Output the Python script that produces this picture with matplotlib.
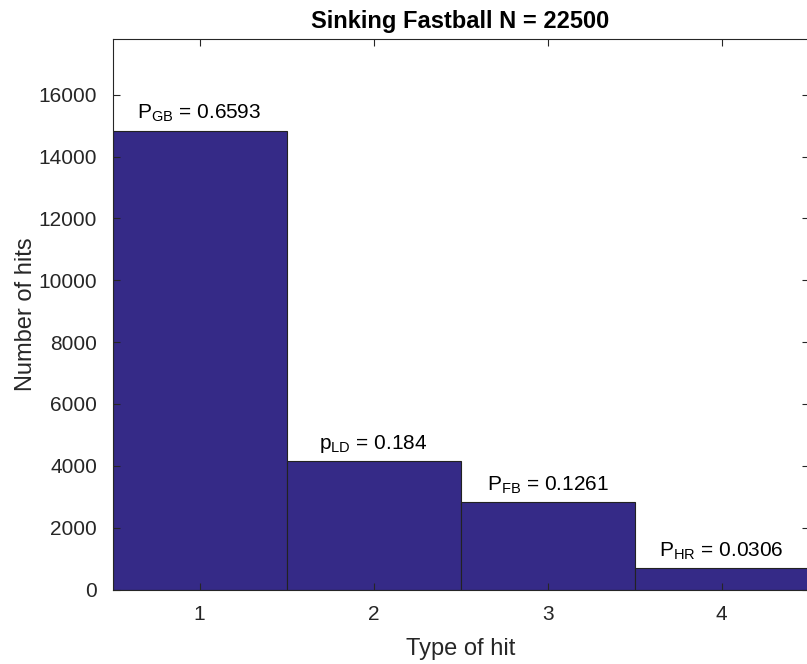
import matplotlib
matplotlib.use("Agg")
import matplotlib.pyplot as plt

categories = [1, 2, 3, 4]
counts = [14834, 4140, 2837, 689]
labels = [r"P$_{\mathregular{GB}}$ = 0.6593", r"p$_{\mathregular{LD}}$ = 0.184",
          r"P$_{\mathregular{FB}}$ = 0.1261", r"P$_{\mathregular{HR}}$ = 0.0306"]
yticks = [0, 2000, 4000, 6000, 8000, 10000, 12000, 14000, 16000]
title = "Sinking Fastball N = 22500"

plt.rcParams['font.family'] = ['Liberation Sans', 'DejaVu Sans']
plt.rcParams['mathtext.fontset'] = 'custom'
plt.rcParams['mathtext.rm'] = 'Liberation Sans'

W, H = 807, 664
fig = plt.figure(figsize=(W / 100, H / 100), dpi=100)
left, bottom, top = 112.5, 589.5, 39.0
ax = fig.add_axes([left / W, 1 - bottom / H, (W - left) / W + 0.002, (bottom - top) / H])

ax.bar(categories, counts, width=1.0, color=(0.2081, 0.1663, 0.5292),
       edgecolor='#222222', linewidth=0.8)
for x, c, t in zip(categories, counts, labels):
    ax.annotate(t, (x, c), xytext=(0, 4.5), textcoords='offset points',
                ha='center', va='bottom', fontsize=15, color='black')

ax.set_xlim(0.5, 4.5)
ax.set_ylim(0, 1.2 * max(counts))
ax.set_xticks(categories)
ax.set_yticks(yticks)
ax.tick_params(direction='in', top=True, right=True, length=5, width=0.8,
               colors='#262626', labelsize=15, pad=11)
for s in ax.spines.values():
    s.set_color('#262626')
    s.set_linewidth(0.8)
ax.set_xlabel("Type of hit", fontsize=17, color='#262626', labelpad=10)
ax.set_ylabel("Number of hits", fontsize=17, color='#262626', labelpad=1)
ax.set_title(title, fontsize=17, fontweight='bold', pad=8)

fig.savefig("out.png", dpi=100)
